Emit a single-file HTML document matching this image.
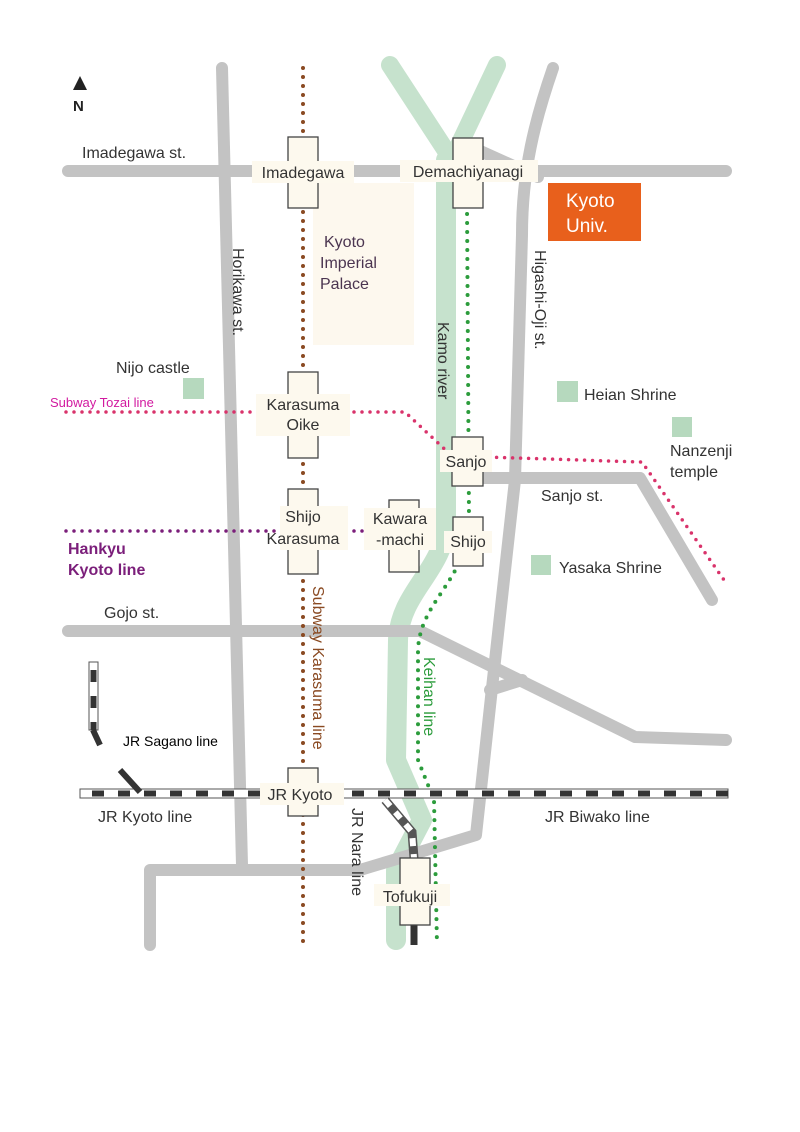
<!DOCTYPE html>
<html><head><meta charset="utf-8"><style>
body{margin:0;background:#fff}
svg{display:block}
text{font-family:"Liberation Sans",sans-serif;fill:#333}
</style></head><body>
<svg width="800" height="1132" viewBox="0 0 800 1132">
<rect width="800" height="1132" fill="#fff"/>
<!-- palace -->
<rect x="313" y="183" width="101" height="162" fill="#fdf8ee"/>
<!-- river -->
<g fill="none" stroke="#c6e2cd" stroke-linecap="round" stroke-linejoin="round">
<path d="M390 65 L452 160" stroke-width="18"/>
<path d="M497 65 L452 160" stroke-width="18"/>
<path d="M446 160 L446 520 C446 570 400 590 398 640 L396 760 L422 820 L396 870 L396 940" stroke-width="20"/>
</g>
<!-- roads -->
<g fill="none" stroke="#c3c3c3" stroke-width="12" stroke-linecap="round" stroke-linejoin="round">
<path d="M68 171 L726 171"/>
<path d="M222 68 L242 865"/>
<path d="M68 631 L420 631 L635 737 L726 740"/>
<path d="M553 68 C535 120 522 170 522 235 L515 480 L492 688 L476 835 L400 858 L360 870 L150 870 L150 945"/>
<path d="M470 478 L640 478 L712 600"/>
<path d="M490 690 L522 680"/>
<path d="M478 150 L538 177"/>
</g>
<!-- subway karasuma -->
<line x1="303" y1="68" x2="303" y2="945" stroke="#8a4a22" stroke-width="4" stroke-dasharray="0 9" stroke-linecap="round"/>
<!-- keihan -->
<path d="M467 205 L469 520 C468 580 420 600 418 650 L418 760 L434 800 L437 945" fill="none" stroke="#2c9c3c" stroke-width="4" stroke-dasharray="0 9" stroke-linecap="round"/>
<!-- tozai -->
<path d="M66 412 L405 412 L452 456 L642 462 L724 580" fill="none" stroke="#d9336b" stroke-width="3.5" stroke-dasharray="0 8" stroke-linecap="round"/>
<!-- hankyu -->
<path d="M66 531 L400 531" fill="none" stroke="#7b1e7a" stroke-width="3.5" stroke-dasharray="0 8" stroke-linecap="round"/>
<!-- JR -->
<rect x="80" y="789" width="648" height="9" fill="#fff" stroke="#555" stroke-width="1"/>
<line x1="92" y1="793.5" x2="728" y2="793.5" stroke="#333" stroke-width="6" stroke-dasharray="12 14"/>
<rect x="89" y="662" width="9" height="68" fill="#fff" stroke="#555" stroke-width="1"/>
<line x1="93.5" y1="670" x2="93.5" y2="730" stroke="#333" stroke-width="6" stroke-dasharray="12 14"/>
<path d="M93 730 L100 745" stroke="#333" stroke-width="6"/>
<path d="M120 770 L140 792" stroke="#333" stroke-width="6"/>
<path d="M385 800 L412 832 L414 858" fill="none" stroke="#555" stroke-width="9"/>
<path d="M385 800 L412 832 L414 858" fill="none" stroke="#fff" stroke-width="6" stroke-dasharray="8 8"/>
<line x1="414" y1="925" x2="414" y2="945" stroke="#333" stroke-width="7"/>
<!-- stations -->
<g fill="#fdf9ee" stroke="#444" stroke-width="1.3">
<rect x="288" y="137" width="30" height="71"/>
<rect x="453" y="138" width="30" height="70"/>
<rect x="288" y="372" width="30" height="86"/>
<rect x="452" y="437" width="31" height="49"/>
<rect x="288" y="489" width="30" height="85"/>
<rect x="389" y="500" width="30" height="72"/>
<rect x="453" y="517" width="30" height="49"/>
<rect x="288" y="768" width="30" height="48"/>
<rect x="400" y="858" width="30" height="67"/>
</g>
<!-- label backgrounds -->
<g fill="#fdf9ee">
<rect x="252" y="161" width="102" height="22"/>
<rect x="400" y="160" width="138" height="22"/>
<rect x="256" y="394" width="94" height="42"/>
<rect x="440" y="450" width="52" height="22"/>
<rect x="280" y="506" width="68" height="44"/>
<rect x="364" y="508" width="72" height="42"/>
<rect x="444" y="531" width="48" height="22"/>
<rect x="260" y="783" width="84" height="22"/>
<rect x="374" y="884" width="76" height="22"/>
</g>
<!-- station labels -->
<g font-size="16" text-anchor="middle" fill="#333">
<text x="303" y="178">Imadegawa</text>
<text x="468" y="177">Demachiyanagi</text>
<text x="303" y="410">Karasuma</text>
<text x="303" y="430">Oike</text>
<text x="466" y="467">Sanjo</text>
<text x="303" y="522">Shijo</text>
<text x="303" y="544">Karasuma</text>
<text x="400" y="524">Kawara</text>
<text x="400" y="545">-machi</text>
<text x="468" y="547">Shijo</text>
<text x="300" y="800">JR Kyoto</text>
<text x="410" y="902">Tofukuji</text>
</g>
<!-- kyoto univ -->
<rect x="548" y="183" width="93" height="58" fill="#e8601c"/>
<text x="566" y="207" font-size="19" style="fill:#fff">Kyoto</text>
<text x="566" y="232" font-size="19" style="fill:#fff">Univ.</text>
<!-- green squares -->
<g fill="#b6d9be">
<rect x="183" y="378" width="21" height="21"/>
<rect x="557" y="381" width="21" height="21"/>
<rect x="672" y="417" width="20" height="20"/>
<rect x="531" y="555" width="20" height="20"/>
</g>
<!-- N -->
<polygon points="80,76 73,90 87,90" fill="#222"/>
<text x="73" y="111" font-size="15" font-weight="bold" style="fill:#222">N</text>
<!-- labels -->
<g font-size="16">
<text x="82" y="158">Imadegawa st.</text>
<text x="324" y="247" style="fill:#4b3550">Kyoto</text>
<text x="320" y="268" style="fill:#4b3550">Imperial</text>
<text x="320" y="289" style="fill:#4b3550">Palace</text>
<text x="116" y="373">Nijo castle</text>
<text x="584" y="400">Heian Shrine</text>
<text x="670" y="456">Nanzenji</text>
<text x="670" y="477">temple</text>
<text x="541" y="501">Sanjo st.</text>
<text x="559" y="573">Yasaka Shrine</text>
<text x="104" y="618">Gojo st.</text>
<text x="98" y="822">JR Kyoto line</text>
<text x="545" y="822">JR Biwako line</text>
<text x="68" y="554" font-weight="bold" style="fill:#7b1e7a">Hankyu</text>
<text x="68" y="575" font-weight="bold" style="fill:#7b1e7a">Kyoto line</text>
</g>
<text x="50" y="407" font-size="13" style="fill:#d21aa0">Subway Tozai line</text>
<text x="123" y="746" font-size="14" style="fill:#000">JR Sagano line</text>
<g font-size="16">
<text transform="translate(233,248) rotate(90)">Horikawa st.</text>
<text transform="translate(535,250) rotate(90)">Higashi-Oji st.</text>
<text transform="translate(438,322) rotate(90)">Kamo river</text>
<text transform="translate(313,586) rotate(90)" style="fill:#8a4a22">Subway Karasuma line</text>
<text transform="translate(424,657) rotate(90)" style="fill:#2c9c3c">Keihan line</text>
<text transform="translate(352,808) rotate(90)">JR Nara line</text>
</g>
</svg>
</body></html>
